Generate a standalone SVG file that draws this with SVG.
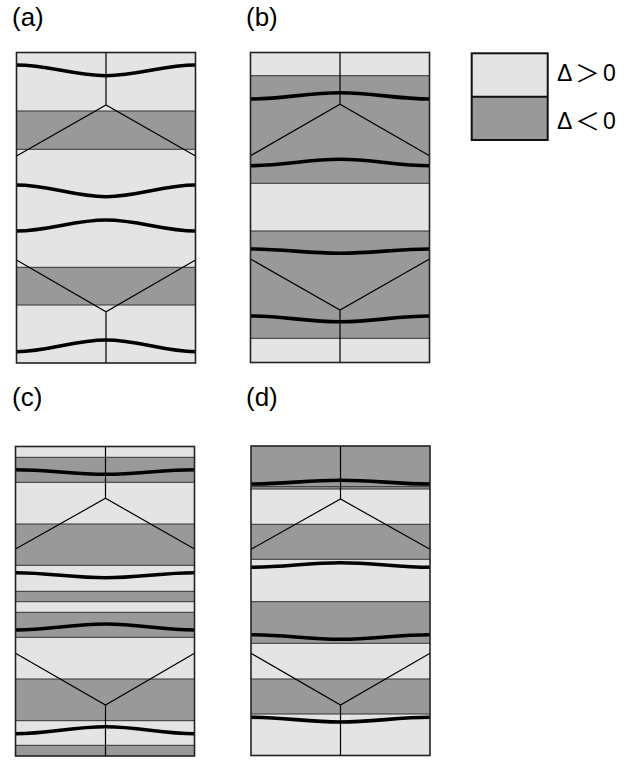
<svg xmlns="http://www.w3.org/2000/svg" width="635" height="762" viewBox="0 0 635 762">
<style>
.bg{fill:#e4e4e4}
.dk{fill:#999999}
.bd{stroke:#333;stroke-width:1;fill:none}
.thin{stroke:#000;stroke-width:1.2;fill:none}
.thick{stroke:#000;stroke-width:3.6;fill:none}
.frame{stroke:#222;stroke-width:1.6;fill:none}
.lbl{font-family:"Liberation Sans",sans-serif;font-size:26px;fill:#000}
.leg{font-family:"Liberation Sans",sans-serif;font-size:23px;fill:#000}
.sym{font-family:"Noto Sans CJK JP",sans-serif;font-size:24px;fill:#000}
</style>
<rect width="635" height="762" fill="#fff"/>
<g id="labels">
<text class="lbl" x="12" y="25.5">(a)</text>
<text class="lbl" x="246" y="25.5">(b)</text>
<text class="lbl" x="12" y="405.5">(c)</text>
<text class="lbl" x="246" y="405.5">(d)</text>
</g>
<g id="panel-a">
<rect class="bg" x="16.5" y="52.5" width="179" height="310.5"/>
<rect class="dk" x="16.5" y="111" width="179" height="38.3"/>
<rect class="dk" x="16.5" y="267.3" width="179" height="37.7"/>
<path class="bd" d="M16.5,111H195.5M16.5,149.3H195.5M16.5,267.3H195.5M16.5,305H195.5"/>
<path class="thin" d="M106,52.5V105M16.5,156L106,105L195.5,156M16.5,260L106,311.7L195.5,260M106,311.7V363"/>
<path class="thick" d="M16.5,65C49.1,65 73.4,75.7 106,75.7S162.9,65 195.5,65"/>
<path class="thick" d="M16.5,185C49.1,185 73.4,196.7 106,196.7S162.9,185 195.5,185"/>
<path class="thick" d="M16.5,231C49.1,231 73.4,220 106,220S162.9,231 195.5,231"/>
<path class="thick" d="M16.5,351.7C49.1,351.7 73.4,340 106,340S162.9,351.7 195.5,351.7"/>
<rect class="frame" x="16.5" y="52.5" width="179" height="310.5"/>
</g>
<g id="panel-b">
<rect class="bg" x="250.5" y="52.5" width="179" height="310"/>
<rect class="dk" x="250.5" y="75.7" width="179" height="107.6"/>
<rect class="dk" x="250.5" y="231" width="179" height="107.3"/>
<path class="bd" d="M250.5,75.7H429.5M250.5,183.3H429.5M250.5,231H429.5M250.5,338.3H429.5"/>
<path class="thin" d="M340,52.5V104.3M250.5,155.7L340,104.3L429.5,155.7M250.5,259L340,310L429.5,259M340,310V362.5"/>
<path class="thick" d="M250.5,99C283.1,99 307.4,92.7 340,92.7S396.9,99 429.5,99"/>
<path class="thick" d="M250.5,165.7C283.1,165.7 307.4,159.3 340,159.3S396.9,165.7 429.5,165.7"/>
<path class="thick" d="M250.5,249C283.1,249 307.4,253.3 340,253.3S396.9,249 429.5,249"/>
<path class="thick" d="M250.5,316C283.1,316 307.4,321.7 340,321.7S396.9,316 429.5,316"/>
<rect class="frame" x="250.5" y="52.5" width="179" height="310"/>
</g>
<g id="panel-c">
<rect class="bg" x="15.5" y="446.5" width="179" height="309.5"/>
<rect class="dk" x="15.5" y="457.3" width="179" height="25"/>
<rect class="dk" x="15.5" y="524" width="179" height="41.3"/>
<rect class="dk" x="15.5" y="591.3" width="179" height="10.4"/>
<rect class="dk" x="15.5" y="612.3" width="179" height="25"/>
<rect class="dk" x="15.5" y="679" width="179" height="41.7"/>
<rect class="dk" x="15.5" y="745.3" width="179" height="10.7"/>
<path class="bd" d="M15.5,457.3H194.5M15.5,482.3H194.5M15.5,524H194.5M15.5,565.3H194.5M15.5,591.3H194.5M15.5,601.7H194.5M15.5,612.3H194.5M15.5,637.3H194.5M15.5,679H194.5M15.5,720.7H194.5M15.5,745.3H194.5"/>
<path class="thin" d="M105.5,446.5V498.3M15.5,549L105.5,498.3L194.5,549M15.5,653.3L105.5,705L194.5,653.3M105.5,705V756"/>
<path class="thick" d="M15.5,469.7C48.2,469.7 72.8,474.3 105.5,474.3S161.8,469.7 194.5,469.7"/>
<path class="thick" d="M15.5,572.7C48.2,572.7 72.8,577.7 105.5,577.7S161.8,572.7 194.5,572.7"/>
<path class="thick" d="M15.5,630C48.2,630 72.8,624 105.5,624S161.8,630 194.5,630"/>
<path class="thick" d="M15.5,733.7C48.2,733.7 72.8,726.7 105.5,726.7S161.8,733.7 194.5,733.7"/>
<rect class="frame" x="15.5" y="446.5" width="179" height="309.5"/>
</g>
<g id="panel-d">
<rect class="bg" x="251" y="446" width="179" height="309.5"/>
<rect class="dk" x="251" y="446" width="179" height="43"/>
<rect class="dk" x="251" y="524.3" width="179" height="35"/>
<rect class="dk" x="251" y="601.7" width="179" height="41.6"/>
<rect class="dk" x="251" y="679" width="179" height="35"/>
<path class="bd" d="M251,486.7H430M251,489H430M251,524.3H430M251,559.3H430M251,601.7H430M251,643.3H430M251,679H430M251,714H430"/>
<path class="thin" d="M340.5,446V499M251,549.3L340.5,499L430,549.3M251,653.3L340.5,705L430,653.3M340.5,705V755.5"/>
<path class="thick" d="M251,484C283.6,484 307.9,480.3 340.5,480.3S397.4,484 430,484"/>
<path class="thick" d="M251,567.3C283.6,567.3 307.9,562.7 340.5,562.7S397.4,567.3 430,567.3"/>
<path class="thick" d="M251,634.7C283.6,634.7 307.9,639.3 340.5,639.3S397.4,634.7 430,634.7"/>
<path class="thick" d="M251,717.3C283.6,717.3 307.9,722 340.5,722S397.4,717.3 430,717.3"/>
<rect class="frame" x="251" y="446" width="179" height="309.5"/>
</g>
<g id="legend">
<rect class="bg" x="471.7" y="53.3" width="76" height="43.4"/>
<rect class="dk" x="471.7" y="96.7" width="76" height="43.3"/>
<rect x="471.7" y="53.3" width="76" height="86.7" fill="none" stroke="#111" stroke-width="2"/>
<line x1="471.7" y1="96.7" x2="547.7" y2="96.7" stroke="#111" stroke-width="2"/>
<text class="leg" x="557" y="80.5">Δ</text>
<text class="sym" x="575" y="82" textLength="25" lengthAdjust="spacingAndGlyphs">＞</text>
<text class="leg" x="603" y="80.5">0</text>
<text class="leg" x="557" y="128.5">Δ</text>
<text class="sym" x="575" y="130" textLength="25" lengthAdjust="spacingAndGlyphs">＜</text>
<text class="leg" x="603" y="128.5">0</text>
</g>
</svg>
